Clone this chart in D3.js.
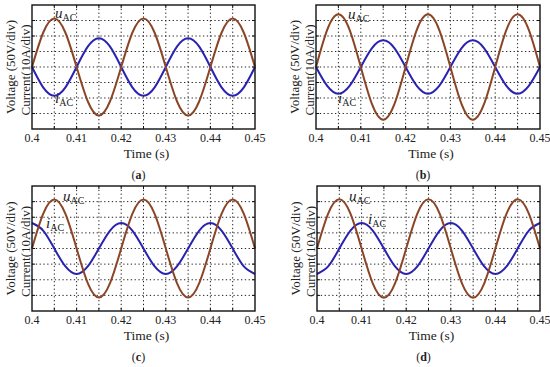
<!DOCTYPE html>
<html>
<head>
<meta charset="utf-8">
<script src="https://cdn.jsdelivr.net/npm/d3@7"></script>
<style>
  body { margin: 0; background: #fff; }
  svg text { font-family: "Liberation Serif", "Times New Roman", serif; fill: #222; }
</style>
</head>
<body>
<div id="graph"></div>
<script>
// sample times (s), one point every 0.0025 s
var time = [0.4, 0.4025, 0.405, 0.4075, 0.41, 0.4125, 0.415, 0.4175, 0.42, 0.4225, 0.425,
            0.4275, 0.43, 0.4325, 0.435, 0.4375, 0.44, 0.4425, 0.445, 0.4475, 0.45];

// values read in grid divisions (0 = centre line)
var uA = [0, 2.21, 3.13, 2.21, 0, -2.21, -3.13, -2.21, 0, 2.21, 3.13, 2.21, 0, -2.21, -3.13, -2.21, 0, 2.21, 3.13, 2.21, 0];
var iA = [0, -1.31, -1.85, -1.31, 0, 1.31, 1.85, 1.31, 0, -1.31, -1.85, -1.31, 0, 1.31, 1.85, 1.31, 0, -1.31, -1.85, -1.31, 0];
var uB = [0, 2.4, 3.4, 2.4, 0, -2.4, -3.4, -2.4, 0, 2.4, 3.4, 2.4, 0, -2.4, -3.4, -2.4, 0, 2.4, 3.4, 2.4, 0];
var iB = [0, -1.22, -1.72, -1.22, 0, 1.22, 1.72, 1.22, 0, -1.22, -1.72, -1.22, 0, 1.22, 1.72, 1.22, 0, -1.22, -1.72, -1.22, 0];
var uC = [0, 2.21, 3.13, 2.21, 0, -2.21, -3.13, -2.21, 0, 2.21, 3.13, 2.21, 0, -2.21, -3.13, -2.21, 0, 2.21, 3.13, 2.21, 0];
var iC = [1.63, 1.15, 0, -1.15, -1.63, -1.15, 0, 1.15, 1.63, 1.15, 0, -1.15, -1.63, -1.15, 0, 1.15, 1.63, 1.15, 0, -1.15, -1.63];
var uD = [0, 2.23, 3.15, 2.23, 0, -2.23, -3.15, -2.23, 0, 2.23, 3.15, 2.23, 0, -2.23, -3.15, -2.23, 0, 2.23, 3.15, 2.23, 0];
var iD = [-1.63, -1.15, 0, 1.15, 1.63, 1.15, 0, -1.15, -1.63, -1.15, 0, 1.15, 1.63, 1.15, 0, -1.15, -1.63, -1.15, 0, 1.15, 1.63];

var xTickLabels = [0.4, 0.41, 0.42, 0.43, 0.44, 0.45];
var panelNames = ["(a)", "(b)", "(c)", "(d)"];

var voltColor = "#8a4526",
    currColor = "#2a22b0";

var svg = d3.select("#graph")
  .append("svg")
    .attr("width", 550)
    .attr("height", 367);

// layout of the four plot boxes and label spots
var panels = [
  {u: uA, i: iA, x0: 32, x1: 255, y0: 5, y1: 129, uPos: [55, 18], iPos: [55, 103]},
  {u: uB, i: iB, x0: 316, x1: 540, y0: 5, y1: 129, uPos: [348, 19], iPos: [338, 103]},
  {u: uC, i: iC, x0: 32, x1: 255, y0: 186, y1: 311, uPos: [63, 201], iPos: [46, 228]},
  {u: uD, i: iD, x0: 317, x1: 540, y0: 186, y1: 311, uPos: [349, 201], iPos: [368, 224]}
];

panels.forEach(function(p, k) {
  var g = svg.append("g");

  var x = d3.scaleLinear().domain([0.4, 0.45]).range([p.x0, p.x1]);
  var y = d3.scaleLinear().domain([-4, 4]).range([p.y1, p.y0]);

  var xGrid = d3.range(1, 10).map(function(j) { return 0.4 + j * 0.005; });
  var yGrid = d3.range(-3, 4);

  // dotted grid
  g.selectAll(".vg").data(xGrid).enter().append("line")
    .attr("x1", function(d) { return x(d); }).attr("x2", function(d) { return x(d); })
    .attr("y1", p.y0).attr("y2", p.y1)
    .attr("stroke", "#222").attr("stroke-width", 1).attr("stroke-dasharray", "1.3,2.5");
  g.selectAll(".hg").data(yGrid).enter().append("line")
    .attr("y1", function(d) { return y(d); }).attr("y2", function(d) { return y(d); })
    .attr("x1", p.x0).attr("x2", p.x1)
    .attr("stroke", "#222").attr("stroke-width", 1).attr("stroke-dasharray", "1.3,2.5");

  // inward ticks
  g.selectAll(".tb").data(xGrid).enter().append("line")
    .attr("x1", function(d) { return x(d); }).attr("x2", function(d) { return x(d); })
    .attr("y1", p.y1).attr("y2", p.y1 - 3).attr("stroke", "#111");
  g.selectAll(".tt").data(xGrid).enter().append("line")
    .attr("x1", function(d) { return x(d); }).attr("x2", function(d) { return x(d); })
    .attr("y1", p.y0).attr("y2", p.y0 + 3).attr("stroke", "#111");
  g.selectAll(".tl").data(yGrid).enter().append("line")
    .attr("y1", function(d) { return y(d); }).attr("y2", function(d) { return y(d); })
    .attr("x1", p.x0).attr("x2", p.x0 + 3).attr("stroke", "#111");
  g.selectAll(".tr").data(yGrid).enter().append("line")
    .attr("y1", function(d) { return y(d); }).attr("y2", function(d) { return y(d); })
    .attr("x1", p.x1).attr("x2", p.x1 - 3).attr("stroke", "#111");

  var line = d3.line()
    .x(function(d, j) { return x(time[j]); })
    .y(function(d) { return y(d); })
    .curve(d3.curveNatural);

  g.append("path").attr("d", line(p.i))
    .attr("fill", "none").attr("stroke", currColor).attr("stroke-width", 2);
  g.append("path").attr("d", line(p.u))
    .attr("fill", "none").attr("stroke", voltColor).attr("stroke-width", 2);

  // frame
  g.append("rect")
    .attr("x", p.x0).attr("y", p.y0)
    .attr("width", p.x1 - p.x0).attr("height", p.y1 - p.y0)
    .attr("fill", "none").attr("stroke", "#111").attr("stroke-width", 1.4);

  // x tick labels
  g.selectAll(".xl").data(xTickLabels).enter().append("text")
    .attr("x", function(d) { return x(d); })
    .attr("y", p.y1 + 12.5)
    .attr("text-anchor", "middle")
    .style("font-size", "12px")
    .text(function(d) { return d; });

  var cx = (p.x0 + p.x1) / 2;
  g.append("text")
    .attr("x", cx + 3).attr("y", p.y1 + 28.5)
    .attr("text-anchor", "middle")
    .style("font-size", "13.5px")
    .text("Time (s)");

  // panel label
  var lab = g.append("text")
    .attr("x", cx - 5).attr("y", p.y1 + 50)
    .attr("text-anchor", "middle")
    .style("font-size", "12px");
  lab.append("tspan").text("(");
  lab.append("tspan").style("font-weight", "bold").text(panelNames[k].slice(1, 2));
  lab.append("tspan").text(")");

  // y axis labels (two lines)
  var my = (p.y0 + p.y1) / 2;
  g.append("text")
    .attr("transform", "translate(" + (p.x0 - 17) + "," + my + ") rotate(-90)")
    .attr("text-anchor", "middle")
    .style("font-size", "13px")
    .text("Voltage (50V/div)");
  g.append("text")
    .attr("transform", "translate(" + (p.x0 - 2) + "," + (my + 3) + ") rotate(-90)")
    .attr("text-anchor", "middle")
    .style("font-size", "13px")
    .text("Current(10A/div)");

  // curve annotations
  var ut = g.append("text").attr("x", p.uPos[0]).attr("y", p.uPos[1]).style("font-size", "15px");
  ut.append("tspan").style("font-style", "italic").text("u");
  ut.append("tspan").attr("dy", 3).style("font-size", "10px").text("AC");
  var it = g.append("text").attr("x", p.iPos[0]).attr("y", p.iPos[1]).style("font-size", "15px");
  it.append("tspan").style("font-style", "italic").text("i");
  it.append("tspan").attr("dy", 3).style("font-size", "10px").text("AC");
});
</script>
</body>
</html>
